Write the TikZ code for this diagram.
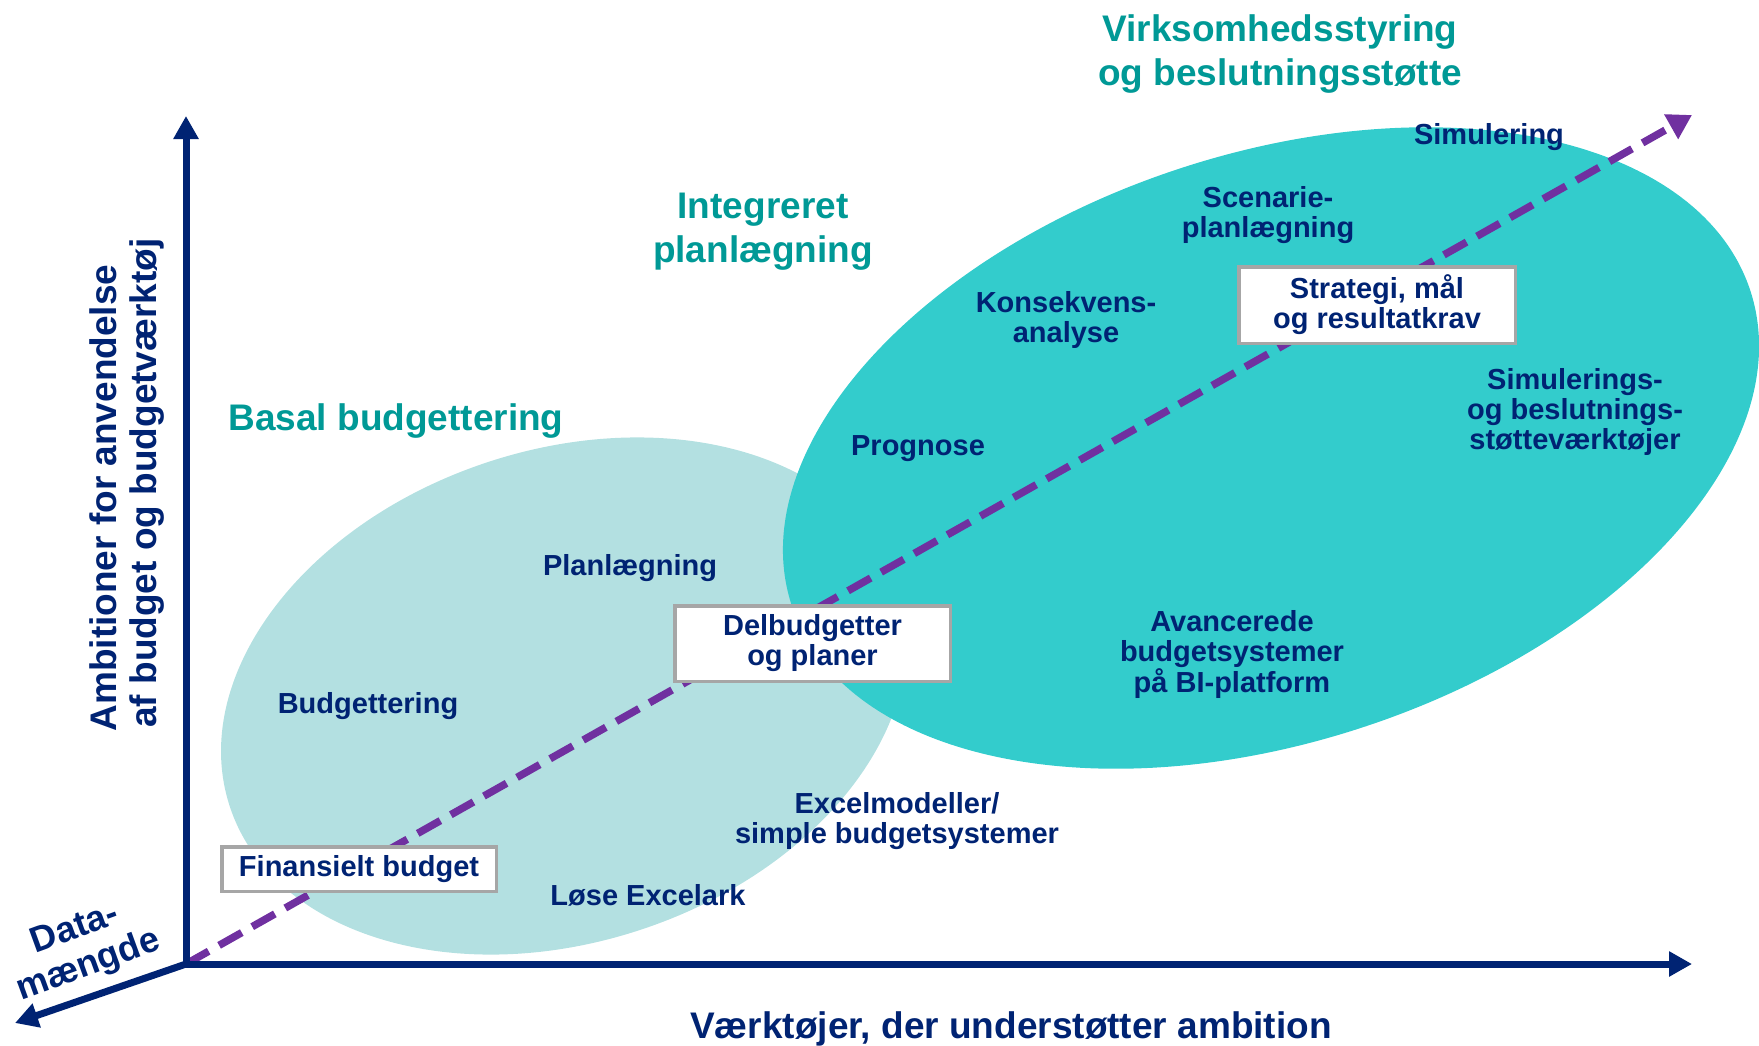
\documentclass[tikz,border=0pt]{standalone}
\usepackage{fontspec}
\setmainfont{Liberation Sans}
\usetikzlibrary{arrows.meta}
\definecolor{navy}{RGB}{0,35,115}
\definecolor{tealtxt}{RGB}{0,153,150}
\definecolor{darkteal}{RGB}{51,204,204}
\definecolor{lightteal}{RGB}{179,224,225}
\definecolor{dashpurple}{RGB}{112,48,160}
\definecolor{boxgray}{RGB}{166,166,166}
\begin{document}
\begin{tikzpicture}[x=1pt,y=-1pt,
  lbl/.style={text=navy,font=\bfseries\fontsize{29}{30}\selectfont,align=center,inner sep=0pt},
  ttl/.style={text=tealtxt,font=\bfseries\fontsize{37}{44}\selectfont,align=center,inner sep=0pt},
  axlbl/.style={text=navy,font=\bfseries\fontsize{37}{44}\selectfont,align=center,inner sep=0pt},
  stepbox/.style={lbl,fill=white,draw=boxgray,line width=3.5pt},
  axisline/.style={draw=navy,line width=7pt},
  navytip/.tip={Triangle[length=23pt,width=24pt]},
  dashline/.style={draw=dashpurple,line width=7.5pt,dash pattern=on 26pt off 12pt,
    -{Triangle[length=24pt,width=27pt]}}]
\useasboundingbox (0,0) rectangle (1759,1045);
\begin{scope}
  \clip (0,0) rectangle (1759,1045);
  \fill[lightteal, rotate around={18.4:(564,696)}] (564,696) ellipse [x radius=352, y radius=246];
  \fill[darkteal, rotate around={18.2:(1271,448)}] (1271,448) ellipse [x radius=504.5, y radius=294];
\end{scope}

\coordinate (O) at (186,964);
\coordinate (ytip) at (186,116);
\coordinate (xtip) at (1692,964);
\coordinate (dtip) at (15,1023);
\coordinate (ptip) at (1692,115);

\draw[dashline] (O) -- (ptip);
\draw[axisline, navytip-navytip] (ytip) -- (O) -- (xtip);
\draw[axisline, -navytip] (O) -- (dtip);

% boxes
\node[stepbox, minimum width=276.5pt, minimum height=76.5pt] (strat) at (1377,305) {Strategi, mål\\og resultatkrav};
\node[stepbox, minimum width=275.5pt, minimum height=75.5pt] (delb) at (812.5,643.5) {Delbudgetter\\og planer};
\node[stepbox, minimum width=274.5pt, minimum height=44.5pt] (fin) at (359,869) {Finansielt budget};

% titles
\node[ttl] (t1) at (1280,54) {Virksomhedsstyring\\og beslutningsstøtte};
\node[ttl] (t2) at (763,232) {Integreret\\planlægning};
\node[ttl] (t3) at (396,421) {Basal budgettering};

% labels
\node[lbl] (l1) at (1489,137) {Simulering};
\node[lbl] (l2) at (1268,215) {Scenarie-\\planlægning};
\node[lbl] (l3) at (1066,320) {Konsekvens-\\analyse};
\node[lbl] (l4) at (1575,412) {Simulerings-\\og beslutnings-\\støtteværktøjer};
\node[lbl] (l5) at (918,449) {Prognose};
\node[lbl] (l6) at (630,568) {Planlægning};
\node[lbl] (l7) at (1232,654) {Avancerede\\budgetsystemer\\på BI-platform};
\node[lbl] (l8) at (368,706) {Budgettering};
\node[lbl] (l9) at (897,821) {Excelmodeller/\\simple budgetsystemer};
\node[lbl] (l10) at (648,895) {Løse Excelark};

% axis labels
\node[axlbl] (xl) at (1011,1029) {Værktøjer, der understøtter ambition};
\node[axlbl, rotate=90] (yl1) at (103,498) {Ambitioner for anvendelse};
\node[axlbl, rotate=90] (yl2) at (147,483) {af budget og budgetværktøj};
\node[axlbl, rotate=20, font=\bfseries\fontsize{36}{39}\selectfont] (dl) at (82,948) {Data-\\mængde};
\end{tikzpicture}
\end{document}
